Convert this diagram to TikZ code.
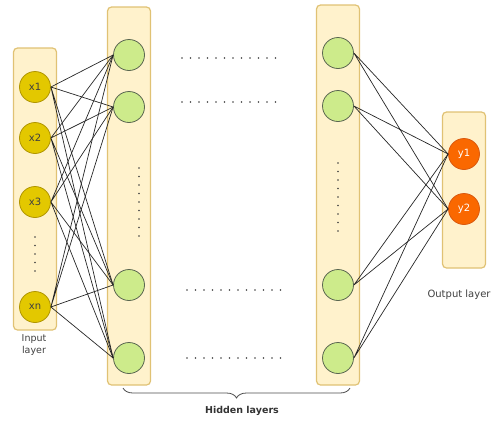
\documentclass[tikz,border=0pt]{standalone}
\usepackage{fontspec}
\setmainfont{DejaVu Sans}
\usetikzlibrary{decorations.pathreplacing}
\definecolor{boxfill}{HTML}{FFF2CC}
\definecolor{boxline}{HTML}{E0C274}
\definecolor{infill}{HTML}{E3C800}
\definecolor{inline}{HTML}{B09500}
\definecolor{hidfill}{HTML}{CDEB8B}
\definecolor{hidline}{HTML}{5A6650}
\definecolor{outfill}{HTML}{FA6800}
\definecolor{outline}{HTML}{D95A10}
\begin{document}
\begin{tikzpicture}
[
    x=1pt, y=-1pt,
    font=\fontsize{10}{11}\selectfont,
    layerbox/.style={draw=boxline, fill=boxfill, line width=1.2pt, rounded corners=4pt, minimum width=43pt},
    innode/.style={draw=inline, fill=infill, circle, minimum size=31pt, inner sep=0pt, line width=0.8pt, text=black!75},
    hidnode/.style={draw=hidline, fill=hidfill, circle, minimum size=31pt, inner sep=0pt, line width=0.8pt},
    outnode/.style={draw=outline, fill=outfill, circle, minimum size=31pt, inner sep=0pt, line width=0.8pt, text=white},
    weight/.style={draw=black!85, line width=0.7pt},
    dotrow/.style={draw=black!75, line width=1.7pt, line cap=round, dash pattern=on 0pt off 8.5pt}
]
    \useasboundingbox (0,0) rectangle (498,421);

    \node [layerbox, minimum height=282pt] (inbox) at (35,189) {};
    \node [layerbox, minimum height=378pt] (hidbox1) at (129,196) {};
    \node [layerbox, minimum height=380pt] (hidbox2) at (338,195) {};
    \node [layerbox, minimum height=156pt] (outbox) at (464,190) {};

    \node [innode] (x1) at (35,87) {x1};
    \node [innode] (x2) at (35,138) {x2};
    \node [innode] (x3) at (35,202) {x3};
    \node [innode] (xn) at (35,307) {xn};

    \node [hidnode] (a1) at (129,55) {};
    \node [hidnode] (a2) at (129,107) {};
    \node [hidnode] (a3) at (129,285) {};
    \node [hidnode] (a4) at (129,358) {};

    \node [hidnode] (b1) at (338,53) {};
    \node [hidnode] (b2) at (338,106) {};
    \node [hidnode] (b3) at (338,285) {};
    \node [hidnode] (b4) at (338,358) {};

    \node [outnode] (y1) at (464,154) {y1};
    \node [outnode] (y2) at (464,209) {y2};

    \draw [weight] (x1.east) -- (a1.west) (x1.east) -- (a2.west) (x1.east) -- (a3.west) (x1.east) -- (a4.west);
    \draw [weight] (x2.east) -- (a1.west) (x2.east) -- (a2.west) (x2.east) -- (a3.west) (x2.east) -- (a4.west);
    \draw [weight] (x3.east) -- (a1.west) (x3.east) -- (a2.west) (x3.east) -- (a3.west) (x3.east) -- (a4.west);
    \draw [weight] (xn.east) -- (a1.west) (xn.east) -- (a2.west) (xn.east) -- (a3.west) (xn.east) -- (a4.west);

    \draw [weight] (b1.east) -- (y1.west) (b1.east) -- (y2.west);
    \draw [weight] (b2.east) -- (y1.west) (b2.east) -- (y2.west);
    \draw [weight] (b3.east) -- (y1.west) (b3.east) -- (y2.west);
    \draw [weight] (b4.east) -- (y1.west) (b4.east) -- (y2.west);

    \draw [dotrow] (35,237) -- (35,272);
    \draw [dotrow] (139,168) -- (139,240);
    \draw [dotrow] (338,163) -- (338,235);
    \draw [dotrow] (182,58) -- (276,58);
    \draw [dotrow] (182,102) -- (276,102);
    \draw [dotrow] (187,290) -- (281,290);
    \draw [dotrow] (187,358) -- (281,358);

    \node [text=black!75, align=center, font=\fontsize{9.5}{12}\selectfont] (inlabel) at (34,345) {Input\\layer};
    \node [text=black!75, anchor=west] (outlabel) at (424,295) {Output layer};

    \coordinate (braceL) at (123,388);
    \coordinate (braceR) at (350,388);
    \draw [black!70, line width=0.8pt, decorate, decoration={brace, mirror, amplitude=10pt}] (braceL) -- (braceR);
    \node [text=black!80, font=\fontsize{9.5}{11}\selectfont\bfseries] (hidlabel) at (242,411) {Hidden layers};
\end{tikzpicture}
\end{document}
